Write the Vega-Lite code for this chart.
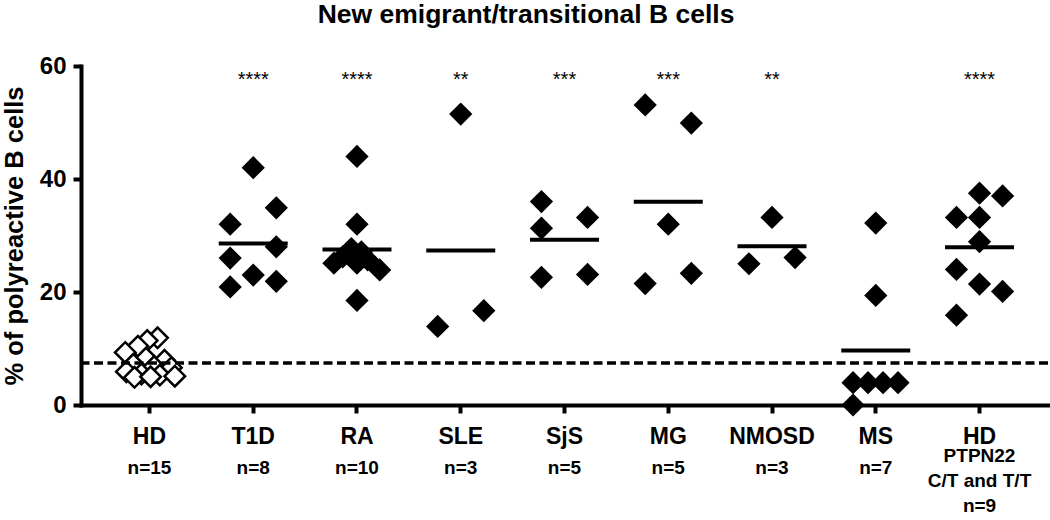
{
  "$schema": "https://vega.github.io/schema/vega-lite/v6.json",
  "width": 967,
  "height": 339,
  "autosize": "none",
  "padding": {"left": 81, "top": 66, "right": 2, "bottom": 115},
  "title": {"text": "New emigrant/transitional B cells", "font": "Liberation Sans", "fontSize": 26.5, "fontWeight": "bold", "color": "black", "anchor": "middle", "frame": "bounds", "offset": 26},
  "config": {
    "view": {"stroke": null},
    "axis": {"domainColor": "black", "tickColor": "black", "labelColor": "black", "titleColor": "black", "labelFont": "Liberation Sans", "titleFont": "Liberation Sans", "labelFontWeight": "bold", "titleFontWeight": "bold", "domainWidth": 4, "tickWidth": 4, "domainCap": "square", "grid": false, "labelOverlap": false}
  },
  "datasets": {
    "pts": [
      {"group":"HD","value":11.9,"slot":0.7},
      {"group":"HD","value":11.4,"slot":-0.2},
      {"group":"HD","value":10.4,"slot":-1.0},
      {"group":"HD","value":9.3,"slot":-2.1},
      {"group":"HD","value":8.3,"slot":-0.3},
      {"group":"HD","value":7.9,"slot":1.3},
      {"group":"HD","value":7.2,"slot":-1.4},
      {"group":"HD","value":6.8,"slot":0.4},
      {"group":"HD","value":6.6,"slot":1.9},
      {"group":"HD","value":5.9,"slot":-2.0},
      {"group":"HD","value":5.5,"slot":-0.7},
      {"group":"HD","value":5.3,"slot":0.9},
      {"group":"HD","value":5.1,"slot":2.2},
      {"group":"HD","value":4.9,"slot":-1.3},
      {"group":"HD","value":5.0,"slot":0.1},
      {"group":"T1D","value":42.0,"slot":0},
      {"group":"T1D","value":32.0,"slot":-2},
      {"group":"T1D","value":34.9,"slot":2},
      {"group":"T1D","value":28.0,"slot":2},
      {"group":"T1D","value":26.0,"slot":-2},
      {"group":"T1D","value":23.0,"slot":0},
      {"group":"T1D","value":21.9,"slot":2},
      {"group":"T1D","value":20.9,"slot":-2},
      {"group":"RA","value":44.0,"slot":0},
      {"group":"RA","value":32.0,"slot":0},
      {"group":"RA","value":18.5,"slot":0},
      {"group":"RA","value":27.7,"slot":-0.49},
      {"group":"RA","value":27.1,"slot":0.38},
      {"group":"RA","value":25.1,"slot":-2},
      {"group":"RA","value":25.1,"slot":0},
      {"group":"RA","value":23.9,"slot":1.97},
      {"group":"RA","value":25.7,"slot":0.93},
      {"group":"RA","value":26.2,"slot":-1.24},
      {"group":"SLE","value":51.5,"slot":0},
      {"group":"SLE","value":13.9,"slot":-2},
      {"group":"SLE","value":16.7,"slot":2},
      {"group":"SjS","value":36.0,"slot":-2},
      {"group":"SjS","value":31.3,"slot":-2},
      {"group":"SjS","value":33.2,"slot":2},
      {"group":"SjS","value":22.6,"slot":-2},
      {"group":"SjS","value":23.1,"slot":2},
      {"group":"MG","value":53.1,"slot":-2},
      {"group":"MG","value":49.9,"slot":2},
      {"group":"MG","value":32.0,"slot":0},
      {"group":"MG","value":21.5,"slot":-2},
      {"group":"MG","value":23.3,"slot":2},
      {"group":"NMOSD","value":33.2,"slot":0},
      {"group":"NMOSD","value":25.0,"slot":-2},
      {"group":"NMOSD","value":26.1,"slot":2},
      {"group":"MS","value":32.2,"slot":0},
      {"group":"MS","value":19.4,"slot":0},
      {"group":"MS","value":3.95,"slot":-1.97},
      {"group":"MS","value":3.95,"slot":-0.67},
      {"group":"MS","value":3.95,"slot":0.63},
      {"group":"MS","value":3.95,"slot":1.93},
      {"group":"MS","value":0.0,"slot":-1.97},
      {"group":"HD2","value":37.5,"slot":0},
      {"group":"HD2","value":37.0,"slot":2},
      {"group":"HD2","value":33.2,"slot":-2},
      {"group":"HD2","value":33.2,"slot":0},
      {"group":"HD2","value":28.9,"slot":0},
      {"group":"HD2","value":24.0,"slot":-2},
      {"group":"HD2","value":21.4,"slot":0},
      {"group":"HD2","value":20.1,"slot":2},
      {"group":"HD2","value":15.9,"slot":-2}
    ],
    "stars": [
      {"group":"T1D","sig":"****"},
      {"group":"RA","sig":"****"},
      {"group":"SLE","sig":"**"},
      {"group":"SjS","sig":"***"},
      {"group":"MG","sig":"***"},
      {"group":"NMOSD","sig":"**"},
      {"group":"HD2","sig":"****"}
    ]
  },
  "resolve": {"axis": {"x": "independent"}},
  "layer": [
    {
      "data": {"name": "pts"},
      "transform": [{"filter": "datum.group == 'HD'"}],
      "mark": {"type": "point", "shape": "diamond", "filled": true, "fill": "white", "stroke": "black", "strokeWidth": 2.5, "size": 420, "opacity": 1},
      "encoding": {
        "x": {"field": "group", "type": "nominal", "sort": ["HD","T1D","RA","SLE","SjS","MG","NMOSD","MS","HD2"],
              "scale": {"type": "band", "domain": ["HD","T1D","RA","SLE","SjS","MG","NMOSD","MS","HD2"], "paddingInner": 0, "paddingOuter": 0.16},
              "axis": {"orient": "bottom", "title": null, "labelAngle": 0, "labelExpr": "datum.value == 'HD2' ? 'HD' : datum.value", "labelFontSize": 23, "tickSize": 8, "labelPadding": 12}},
        "xOffset": {"field": "slot", "type": "quantitative", "scale": {"domain": [-4.5, 4.5], "nice": false, "zero": false}},
        "y": {"field": "value", "type": "quantitative", "title": "% of polyreactive B cells",
              "scale": {"domain": [0, 60], "nice": false},
              "axis": {"values": [0, 20, 40, 60], "tickSize": 8, "labelPadding": 7, "labelFontSize": 24, "titleFontSize": 25.5, "titlePadding": 12}}
      }
    },
    {
      "data": {"name": "pts"},
      "transform": [{"filter": "datum.group != 'HD'"}],
      "mark": {"type": "point", "shape": "diamond", "filled": true, "color": "black", "strokeWidth": 0, "size": 540, "opacity": 1},
      "encoding": {
        "x": {"field": "group", "type": "nominal", "axis": null},
        "xOffset": {"field": "slot", "type": "quantitative"},
        "y": {"field": "value", "type": "quantitative", "title": "% of polyreactive B cells"}
      }
    },
    {
      "data": {"name": "pts"},
      "transform": [{"filter": "datum.group != 'HD'"}],
      "mark": {"type": "tick", "size": 69, "thickness": 4, "color": "black", "opacity": 1},
      "encoding": {
        "x": {"field": "group", "type": "nominal", "axis": null},
        "y": {"aggregate": "mean", "field": "value", "type": "quantitative", "title": "% of polyreactive B cells"}
      }
    },
    {
      "data": {"name": "pts"},
      "transform": [{"filter": "datum.group == 'HD'"}],
      "mark": {"type": "rule", "color": "black", "strokeWidth": 3.5, "strokeDash": [9, 4.5]},
      "encoding": {
        "y": {"aggregate": "mean", "field": "value", "type": "quantitative", "title": "% of polyreactive B cells"}
      }
    },
    {
      "data": {"name": "stars"},
      "mark": {"type": "text", "font": "Liberation Sans", "fontSize": 20, "fontWeight": "normal", "color": "black", "align": "center", "baseline": "alphabetic"},
      "encoding": {
        "x": {"field": "group", "type": "nominal",
              "axis": {"orient": "bottom", "title": null, "domain": false, "ticks": false, "tickSize": 0, "labelAngle": 0, "labelFontSize": 19, "labelLineHeight": 25,
                       "labelExpr": "datum.value == 'HD' ? 'n=15' : datum.value == 'T1D' ? 'n=8' : datum.value == 'RA' ? 'n=10' : datum.value == 'SLE' ? 'n=3' : datum.value == 'SjS' ? 'n=5' : datum.value == 'MG' ? 'n=5' : datum.value == 'NMOSD' ? 'n=3' : datum.value == 'MS' ? 'n=7' : ['PTPN22', 'C/T and T/T', 'n=9']",
                       "labelPadding": {"condition": {"test": "datum.value == 'HD2'", "value": 41.5}, "value": 53.5}}},
        "y": {"datum": 56.4, "type": "quantitative"},
        "text": {"field": "sig", "type": "nominal"}
      }
    }
  ]
}
